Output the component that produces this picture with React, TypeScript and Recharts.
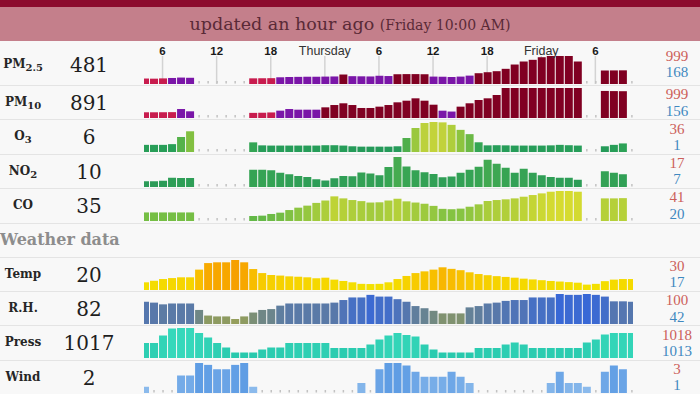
import React from 'react';
import { BarChart, Bar, XAxis, YAxis, CartesianGrid } from 'recharts';

// hour slots (hours since Wednesday 00:00)
const HOURS = [4, 5, 6, 7, 8, 9, 10, 11, 12, 13, 14, 15, 16, 17, 18, 19, 20, 21, 22, 23, 24, 25, 26, 27, 28, 29, 30, 31, 32, 33, 34, 35, 36, 37, 38, 39, 40, 41, 42, 43, 44, 45, 46, 47, 48, 49, 50, 51, 52, 53, 54, 55, 56, 57, 58];
const GRID_HOURS = [6, 12, 18, 24, 30, 36, 42, 48, 54];
const GRID_LABELS = ['6', '12', '18', 'Thursday', '6', '12', '18', 'Friday', '6'];

const PM25 = [185, 180, 190, 205, 220, 212, null, null, null, null, null, null, 192, 195, 198, 230, 240, 245, 250, 250, 255, 260, 330, 270, 265, 260, 285, 275, 340, 345, 345, 340, 255, 250, 240, 255, 290, 377, 413, 450, 536, 691, 800, 861, 955, 999, 999, 999, 800, null, null, 475, 478, 481, null];
const PM10 = [180, 180, 182, 185, 290, 213, null, null, null, null, null, null, 160, 165, 175, 235, 290, 268, 268, 268, 347, 425, 483, 425, 325, 325, 370, 425, 516, 571, 651, 571, 436, 234, 205, 370, 483, 594, 651, 763, 999, 999, 999, 999, 999, 999, 999, 999, 999, null, null, 900, 895, 891, null];
const O3 = [4, 4, 4, 5, 15, 23, null, null, null, null, null, null, 7.5, 3.3, 3, 3, 3, 3, 3, 3, 3.5, 3.5, 3, 2, 1.5, 1.5, 1.5, 1.5, 2, 13.6, 27.6, 34.6, 36, 35.5, 32, 25, 19, 7.6, 3.3, 3.5, 3.3, 3, 3, 3, 3, 3.3, 4, 3.5, 3, null, null, 2, 4, 6, null];
const NO2 = [7.3, 7.3, 7.5, 8.7, 8.6, 8.6, null, null, null, null, null, null, 11.9, 11.9, 11.7, 10.7, 10.1, 9.4, 9, 8.1, 7.6, 8.5, 9.4, 9.3, 10.8, 10.4, 9.7, 13, 17, 13.2, 11.7, 10.9, 10.2, 8.9, 9.2, 10.7, 11.9, 13.1, 15.9, 14.3, 12.7, 10.7, 12.3, 10.7, 9.7, 9, 8.7, 8.7, 7.9, null, null, 11.3, 10.7, 10.1, null];
const CO = [23, 23, 23, 23, 23, 23, null, null, null, null, null, null, 20, 20.3, 21.7, 22.8, 25, 27, 28.7, 31, 33, 36.5, 34.8, 33.4, 32.5, 31.3, 31.5, 33, 34.5, 32.3, 31.3, 30.3, 28.5, 26, 25.7, 26.2, 27.8, 29.8, 32.6, 33.4, 34, 34.8, 36.2, 37.6, 39, 40.4, 41, 41, 40.4, null, null, 34.8, 34.8, 35, null];
const TEMP = [18.4, 19.2, 20.1, 20.6, 21, 21, 25, 28.4, 28.8, 28.8, 30, 28.8, 25.3, 23.2, 22.2, 21.9, 21.5, 21.3, 21, 20.5, 20.8, 19.8, 19.1, 18.4, 17.6, 17.5, 17.6, 18.4, 20.1, 21.7, 23.2, 24.1, 25, 26.2, 25.4, 24.7, 23.6, 22.7, 22.1, 21.6, 21.2, 20.8, 20.3, 19.9, 19.5, 19.1, 18.8, 18.5, 18.2, 17.2, 17.6, 19, 19.8, 20.1, 20.1];
const RH = [82, 80, 76, 78, 78, 78, 63, 50, 48, 48, 42, 48, 57, 63, 65, 73, 78, 78, 78, 78, 78, 80, 86, 92, 92, 98, 94, 94, 88, 82, 72, 67, 61, 55, 55, 55, 69, 72, 78, 80, 84, 86, 86, 92, 92, 92, 100, 98, 98, 100, 98, 94, 83, 83, 82];
const PRESS = [1015, 1015, 1016.5, 1017.9, 1018, 1018, 1017, 1016.1, 1015, 1014.1, 1013.1, 1013.1, 1013.1, 1013.7, 1014.1, 1014.1, 1015, 1015, 1015, 1015, 1015, 1014, 1014, 1014, 1014, 1014.7, 1015.7, 1016.5, 1017, 1016.6, 1016.3, 1014.7, 1013.7, 1013.1, 1013.1, 1013.1, 1013.1, 1014, 1014, 1014, 1014.7, 1015.1, 1014.7, 1014, 1014, 1014, 1014, 1014, 1014, 1015.1, 1015.7, 1016.7, 1017, 1017, 1017];
const WIND = [1.1, null, null, null, 2, 2, 3, 2.85, 2.5, 2.5, 2.85, 3, 1.1, null, null, null, null, null, null, null, null, null, null, null, 1.4, null, 2.5, 3, 3, 2.8, 2.3, 1.9, 1.9, 1.9, 2.3, 1.9, 1.4, null, null, null, null, null, null, null, null, 1.4, 2.3, 1.4, 1.4, 1.1, null, 2.3, 2.8, 2.5, null];

const NAMES = ['PM', 'PM', 'O', 'NO', 'CO', 'Temp', 'R.H.', 'Press', 'Wind'];
const SUBS = ['2.5', '10', '3', '2', '', '', '', '', ''];
const CURRENT = ['481', '891', '6', '10', '35', '20', '82', '1017', '2'];
const MAXES = [999, 999, 36, 17, 41, 30, 100, 1018, 3];
const MINS = [168, 156, 1, 7, 20, 17, 42, 1013, 1];
const HEADER_MAIN = 'updated an hour ago';
const HEADER_SUB = '(Friday 10:00 AM)';
const SECTION_LABEL = 'Weather data';

// ---- styling / layout ----
const BASELINES = [83.5, 117.9, 152.3, 186.7, 221.1, 289.5, 323.9, 358.3, 392.7];
const PLOT_H = [28, 30, 30, 30, 30, 30, 30, 30, 30];
const SEPARATORS = [85, 119.4, 153.8, 188.2, 222.6, 257, 291, 325.4, 359.8];
const BAND = 9.017;
const CHART_LEFT = 140.1;
const CHART_W = BAND * HOURS.length;
const CLIP_L = 144;
const CLIP_R = 633;

type Stop = [number, string];
function hex(c: string) {
  return [1, 3, 5].map((i) => parseInt(c.slice(i, i + 2), 16));
}
function grad(stops: Stop[]) {
  return (v: number) => {
    if (v <= stops[0][0]) return stops[0][1];
    for (let i = 1; i < stops.length; i++) {
      if (v <= stops[i][0]) {
        const t = (v - stops[i - 1][0]) / (stops[i][0] - stops[i - 1][0]);
        const a = hex(stops[i - 1][1]);
        const b = hex(stops[i][1]);
        const m = a.map((x, k) => Math.round(x + (b[k] - x) * t));
        return `rgb(${m[0]},${m[1]},${m[2]})`;
      }
    }
    return stops[stops.length - 1][1];
  };
}
const pmColor = (v: number) => (v <= 200 ? '#c81c4e' : v <= 300 ? '#7a16a8' : '#800022');
const COLORS = [
  pmColor,
  pmColor,
  grad([[0, '#22985a'], [5, '#29a058'], [15, '#55b24a'], [25, '#8dc43f'], [36, '#c3d33b']]),
  grad([[7, '#2b9b58'], [12, '#35a354'], [17, '#46ab50']]),
  grad([[20, '#63b847'], [27, '#8cc541'], [34, '#b1cf3a'], [41, '#d6db30']]),
  grad([[17, '#f3e200'], [20, '#f5da00'], [23, '#f7cc00'], [26, '#f8b800'], [30, '#f6a000']]),
  grad([[42, '#959e5c'], [50, '#8c9a62'], [60, '#748a7e'], [70, '#62809a'], [80, '#5878aa'], [90, '#4a72c0'], [100, '#3868d6']]),
  grad([[1013, '#28c9ad'], [1018, '#36d8bb']]),
  grad([[1, '#8dbcec'], [2, '#74abe8'], [3, '#5f9de4']]),
];
const SERIES = [PM25, PM10, O3, NO2, CO, TEMP, RH, PRESS, WIND];

const BarShape = (p: any) => {
  const { x, y, width, height, payload } = p;
  if (payload.v == null) {
    return <rect x={x + width / 2 - 0.75} y={y + height - 3} width={1.5} height={2.5} fill="#c2c2c2" />;
  }
  return <rect x={x} y={y} width={width} height={height} fill={payload.c} />;
};

const TopTick = (p: any) => {
  const i = GRID_HOURS.indexOf(p.payload.value);
  const lab = GRID_LABELS[i];
  const day = lab.length > 2;
  return (
    <text
      x={p.x}
      y={p.y}
      textAnchor="middle"
      fontFamily="'Liberation Sans', Arial, sans-serif"
      fontSize={day ? 12.5 : 11.5}
      fontWeight={day ? 400 : 700}
      fill={day ? '#333' : '#1a1a1a'}
    >
      {lab}
    </text>
  );
};

function RowChart({ idx }: { idx: number }) {
  const vals = SERIES[idx];
  const min = MINS[idx];
  const max = MAXES[idx];
  const plotH = PLOT_H[idx];
  const lo = min - (5 * (max - min)) / (plotH - 5);
  const color = COLORS[idx];
  const data = HOURS.map((h, i) => ({ h, v: vals[i], c: vals[i] == null ? '' : color(vals[i] as number) }));
  const withTicks = idx === 0;
  const axisH = withTicks ? 14 : 0;
  const H = plotH + axisH;
  return (
    <div style={{ position: 'absolute', left: CLIP_L, top: BASELINES[idx] - H, width: CLIP_R - CLIP_L, height: H, overflow: 'hidden' }}>
      <div style={{ position: 'absolute', left: CHART_LEFT - CLIP_L, top: 0 }}>
        <BarChart width={CHART_W} height={H} data={data} margin={{ top: 0, right: 0, bottom: 0, left: 0 }} barSize={8}>
          <CartesianGrid horizontal={false} stroke="#d3d3d3" strokeWidth={1.5} />
          <XAxis
            dataKey="h"
            orientation="top"
            height={axisH}
            ticks={GRID_HOURS}
            interval={0}
            axisLine={false}
            tickLine={false}
            tickSize={0}
            tickMargin={1}
            tick={withTicks ? <TopTick /> : false}
          />
          <YAxis hide type="number" domain={[lo, max]} allowDataOverflow />
          <Bar
            dataKey={(d: any) => [lo, d.v == null ? lo : Math.min(d.v, max)]}
            isAnimationActive={false}
            barSize={8}
            shape={BarShape}
          />
        </BarChart>
      </div>
    </div>
  );
}

function Txt({ x, cy, w, h = 24, align, style, children }: any) {
  return (
    <div
      style={{
        position: 'absolute',
        left: x,
        top: cy - h / 2,
        width: w,
        height: h,
        lineHeight: h + 'px',
        textAlign: align,
        whiteSpace: 'nowrap',
        ...style,
      }}
    >
      {children}
    </div>
  );
}

function RowText({ idx }: { idx: number }) {
  const b = BASELINES[idx];
  const shift = idx === 0 ? -4 : 0;
  return (
    <>
      <Txt x={0} cy={b - 15 + shift - 1} w={46} align="center" style={{ fontFamily: "'DejaVu Serif', serif", fontSize: 12, fontWeight: 700, color: '#262626' }}>
        {NAMES[idx]}
        {SUBS[idx] ? <span style={{ fontSize: 10, position: 'relative', top: 3 }}>{SUBS[idx]}</span> : null}
      </Txt>
      <Txt x={49} cy={b - 15 + shift} w={80} align="center" style={{ fontFamily: "'DejaVu Serif', serif", fontSize: 20, color: '#1e1e1e' }}>
        {CURRENT[idx]}
      </Txt>
      <Txt x={637} cy={b - 23.8 + shift} w={80} h={16} align="center" style={{ fontFamily: "'Liberation Serif', serif", fontSize: 15, color: '#cc5f5a' }}>
        {MAXES[idx]}
      </Txt>
      <Txt x={637} cy={b - 7.4 + shift} w={80} h={16} align="center" style={{ fontFamily: "'Liberation Serif', serif", fontSize: 15, color: '#3f88c0' }}>
        {MINS[idx]}
      </Txt>
    </>
  );
}

export default function App() {
  return (
    <div style={{ position: 'fixed', left: 0, top: 0, width: 700, height: 394, background: '#f8f8f8', overflow: 'hidden' }}>
      <div style={{ position: 'absolute', left: 0, top: 0, width: 700, height: 7, background: '#8c0c2e' }} />
      <div
        style={{
          position: 'absolute',
          left: 0,
          top: 7,
          width: 700,
          height: 34,
          background: '#c47f8b',
          textAlign: 'center',
          lineHeight: '34px',
          fontFamily: "'DejaVu Serif', serif",
          fontSize: 17.5,
          color: '#5a2a37',
          whiteSpace: 'nowrap',
        }}
      >
        {HEADER_MAIN} <span style={{ fontSize: 14 }}>{HEADER_SUB}</span>
      </div>
      {SEPARATORS.map((s, i) => (
        <div key={'s' + i} style={{ position: 'absolute', left: 0, top: Math.round(s), width: 700, height: 1, background: '#e4e4e4' }} />
      ))}
      <Txt x={0} cy={240} w={200} align="left" style={{ fontFamily: "'DejaVu Serif', serif", fontSize: 16, fontWeight: 700, color: '#8d8d8d' }}>
        {SECTION_LABEL}
      </Txt>
      {SERIES.map((_, i) => (
        <React.Fragment key={i}>
          <RowChart idx={i} />
          <RowText idx={i} />
        </React.Fragment>
      ))}
    </div>
  );
}
